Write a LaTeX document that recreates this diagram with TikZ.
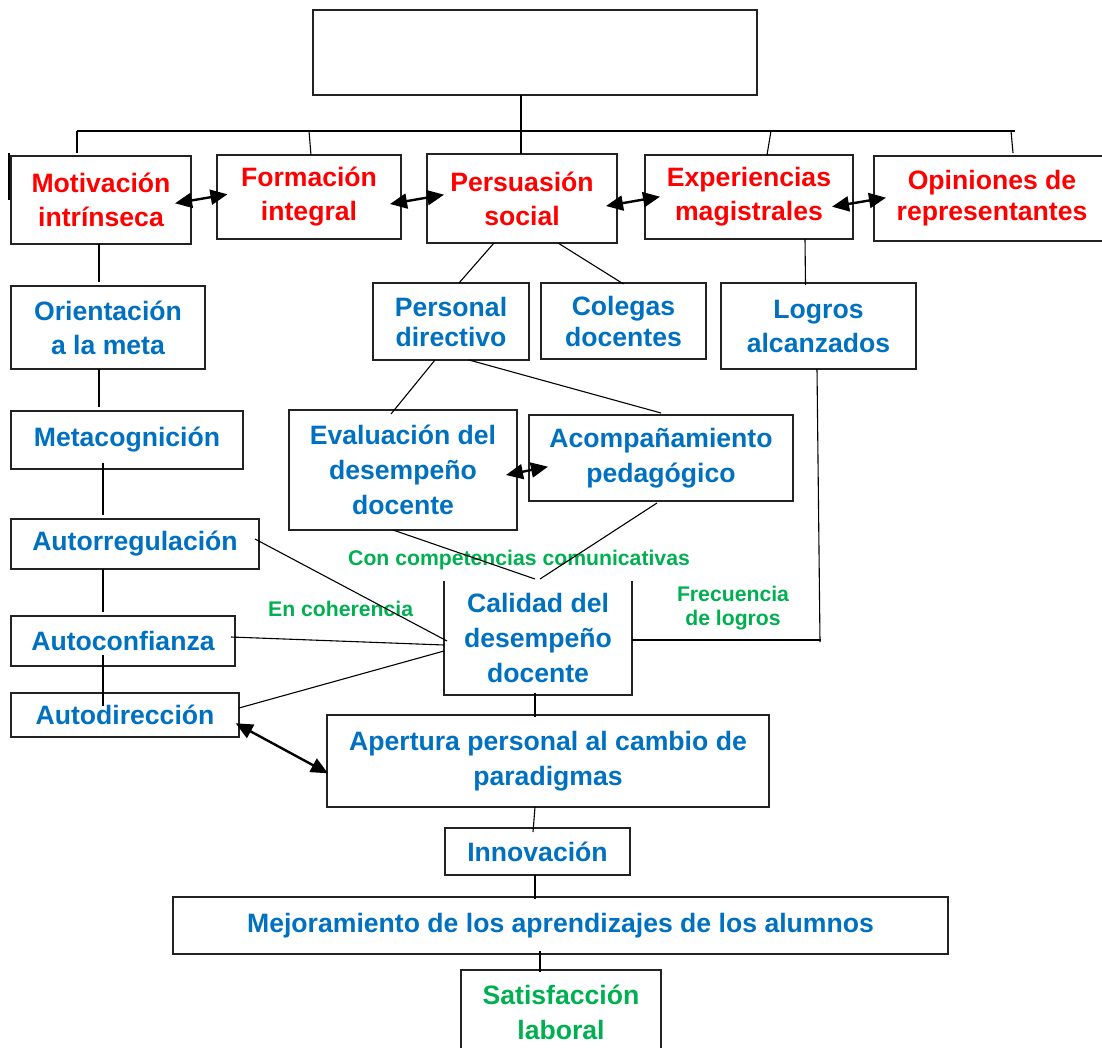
\documentclass[tikz,border=0pt]{standalone}
\usepackage{fontspec}
\setmainfont{Liberation Sans}
\usetikzlibrary{calc,arrows.meta}
\definecolor{tred}{HTML}{FF0000}
\definecolor{tblue}{HTML}{0070C0}
\definecolor{tgreen}{HTML}{00B050}
\definecolor{edge}{HTML}{222222}
\begin{document}
\begin{tikzpicture}[x=1pt,y=-1pt,
  box/.style={draw=edge,line width=1.4pt,inner sep=0pt,outer sep=0pt,align=center,
    font=\fontsize{26.6}{34}\selectfont\bfseries},
  redbox/.style={box,text=tred},
  bluebox/.style={box,text=tblue},
  link/.style={draw=black,line width=1.1pt},
  heavylink/.style={draw=black,line width=2pt},
  twoway/.style={draw=black,line width=2.4pt,{Triangle[length=17pt,width=15pt]}-{Triangle[length=17pt,width=15pt]}},
  note/.style={text=tgreen,inner sep=0pt,align=center,font=\fontsize{21.2}{24.3}\selectfont\bfseries}]
\useasboundingbox (0,0) rectangle (1102,1048);
\clip (0,0) rectangle (1102,1048);

% title frame
\node[box,minimum width=444,minimum height=85] (top) at (535,52.5) {};

% first row
\node[redbox,minimum width=180,minimum height=88] (mot) at (101,200) {Motivación\\intrínseca};
\node[redbox,minimum width=184,minimum height=84] (form) at (309,197) {Formación\\integral};
\node[redbox,minimum width=190,minimum height=89] (pers) at (522,198.5) {Persuasión\\social};
\node[redbox,minimum width=208,minimum height=84] (exp) at (749,197) {Experiencias\\magistrales};
\node[redbox,minimum width=236,minimum height=85,font=\fontsize{26.6}{31}\selectfont\bfseries] (opin) at (992,198.5) {Opiniones de\\representantes};

% left column
\node[bluebox,minimum width=194,minimum height=83] (ori) at (108,327.5) {Orientación\\a la meta};
\node[bluebox,minimum width=232,minimum height=58] (meta) at (127,440) {Metacognición};
\node[bluebox,minimum width=248,minimum height=50] (autor) at (135,544) {Autorregulación};
\node[bluebox,minimum width=224,minimum height=50] (autoc) at (123,641) {Autoconfianza};
\node[bluebox,minimum width=228,minimum height=44] (autod) at (125,715) {Autodirección};

% middle
\node[bluebox,minimum width=156,minimum height=77,font=\fontsize{26.6}{30}\selectfont\bfseries] (pdir) at (451,321.5) {Personal\\directivo};
\node[bluebox,minimum width=165,minimum height=76,font=\fontsize{26.6}{31}\selectfont\bfseries] (coleg) at (623.5,321) {Colegas\\docentes};
\node[bluebox,minimum width=195,minimum height=86] (logros) at (818.5,326) {Logros\\alcanzados};
\node[bluebox,minimum width=228,minimum height=120,font=\fontsize{26.6}{35}\selectfont\bfseries] (eval) at (403,470) {Evaluación del\\desempeño\\docente};
\node[bluebox,minimum width=264,minimum height=86,font=\fontsize{26.6}{35}\selectfont\bfseries] (acomp) at (661,458) {Acompañamiento\\pedagógico};
\node[bluebox,draw=none,minimum width=188,minimum height=114,font=\fontsize{26.6}{35}\selectfont\bfseries] (cal) at (538,638) {Calidad del\\desempeño\\docente};
\draw[draw=edge,line width=1.4pt] (cal.north west) -- (cal.south west) -- (cal.south east) -- (cal.north east);

% lower chain
\node[bluebox,minimum width=442,minimum height=92,font=\fontsize{26.6}{35}\selectfont\bfseries] (aper) at (548,761) {Apertura personal al cambio de\\paradigmas};
\node[bluebox,minimum width=185,minimum height=47] (innov) at (537.5,851.5) {Innovación};
\node[bluebox,minimum width=775,minimum height=57] (mejor) at (560.5,925.5) {Mejoramiento de los aprendizajes de los alumnos};
\node[box,text=tgreen,minimum width=200,minimum height=84,font=\fontsize{26.6}{35}\selectfont\bfseries] (satis) at (561,1012) {Satisfacción\\laboral};

% green labels on the links
\node[note,anchor=base west] (lcom) at (348,565) {Con competencias comunicativas};
\node[note,anchor=base west] (lcoh) at (268,616.7) {En coherencia};
\node[note] (lfre) at (733,608.4) {Frecuencia\\de logros};

% branching bar under the title
\coordinate (barL) at (77,131);
\coordinate (barR) at (1015,131);
\draw[link] (barL) -- (barR);
\draw[heavylink] ($(top.south)+(-14,0)$) -- ($(pers.north)+(-1,0)$);
\draw[link] (barL) -- ($(mot.north)+(-24,-3)$);
\draw[link] ($(form.north)+(0,-24)$) -- ($(form.north)+(2,0)$);
\draw[link] ($(exp.north)+(22,-24)$) -- ($(exp.north)+(18,0)$);
\draw[link] ($(opin.north)+(19,-25)$) -- ($(opin.north)+(21,-3)$);
\draw[link] ($(mot.north west)+(-2,-3)$) -- ($(mot.west)+(-2,0)$);

% left column links
\draw[heavylink] ($(mot.south)+(-2,0)$) -- ($(ori.north)+(-9,-4)$);
\draw[link] ($(ori.south)+(-9,0)$) -- ($(meta.north)+(-28,-4)$);
\draw[link] ($(meta.south)+(-24,-6)$) -- ($(autor.north)+(-32,-4)$);
\draw[link] ($(autor.south)+(-32,0)$) -- ($(autoc.north)+(-20,-4)$);
\draw[link] ($(autoc.south)+(-20,-11)$) -- ($(autod.north)+(-22,13)$);

% middle links
\draw[link] ($(pers.south)+(-28,0)$) -- ($(pdir.north)+(8,0)$);
\draw[link] ($(pers.south)+(36,0)$) -- ($(coleg.north)+(0,1)$);
\draw[link] ($(exp.south)+(56,0)$) -- ($(logros.north)+(-13,2)$);
\draw[link] ($(pdir.south)+(-16,0)$) -- ($(eval.north)+(-12,4)$);
\draw[link] ($(pdir.south)+(18,0)$) -- ($(acomp.north)+(0,-2)$);
\draw[link] ($(eval.south)+(-10,0)$) -- ($(cal.north)+(-3,-2)$);
\draw[link] ($(acomp.south)+(-4,2)$) -- ($(cal.north)+(2,-2)$);
\draw[link] ($(autor.east)+(-4,-5)$) -- ($(cal.west)+(3,3)$);
\draw[link] ($(autoc.east)+(-4,-4)$) -- ($(cal.west)+(0,7)$);
\draw[link] ($(autod.east)+(0,-7)$) -- ($(cal.west)+(0,13)$);
\coordinate (lcorner) at (820,640);
\draw[link] ($(logros.south)+(-1.5,0)$) -- ($(lcorner)+(0,2)$);
\draw[link] ($(cal.east)+(0,2)$) -- ($(lcorner)+(1,0)$);

% lower chain links
\draw[link] ($(cal.south)+(-3,-2)$) -- ($(aper.north)+(-13,2)$);
\draw[link] ($(aper.south)+(-13,0)$) -- ($(innov.north)+(-4.5,4)$);
\draw[link] ($(innov.south)+(-2.5,0)$) -- ($(mejor.north)+(-25.5,2)$);
\draw[link] ($(mejor.south)+(-20.5,-3)$) -- ($(satis.north)+(-21,2)$);

% two-way arrows
\draw[twoway] ($(mot.east)+(-16,3.3)$) -- ($(form.west)+(10.5,-2.7)$);
\draw[twoway] ($(form.east)+(-11,7)$) -- ($(pers.west)+(17,-3.8)$);
\draw[twoway] ($(pers.east)+(-11,7.5)$) -- ($(exp.west)+(15,-0.3)$);
\draw[twoway] ($(exp.east)+(-21,9.7)$) -- ($(opin.west)+(12,-0.8)$);
\draw[twoway] ($(eval.east)+(-11,5)$) -- ($(acomp.west)+(19,8.7)$);
\draw[twoway] ($(autod.east)+(-3.3,8.3)$) -- ($(aper.west)+(1,12.3)$);
\end{tikzpicture}
\end{document}
